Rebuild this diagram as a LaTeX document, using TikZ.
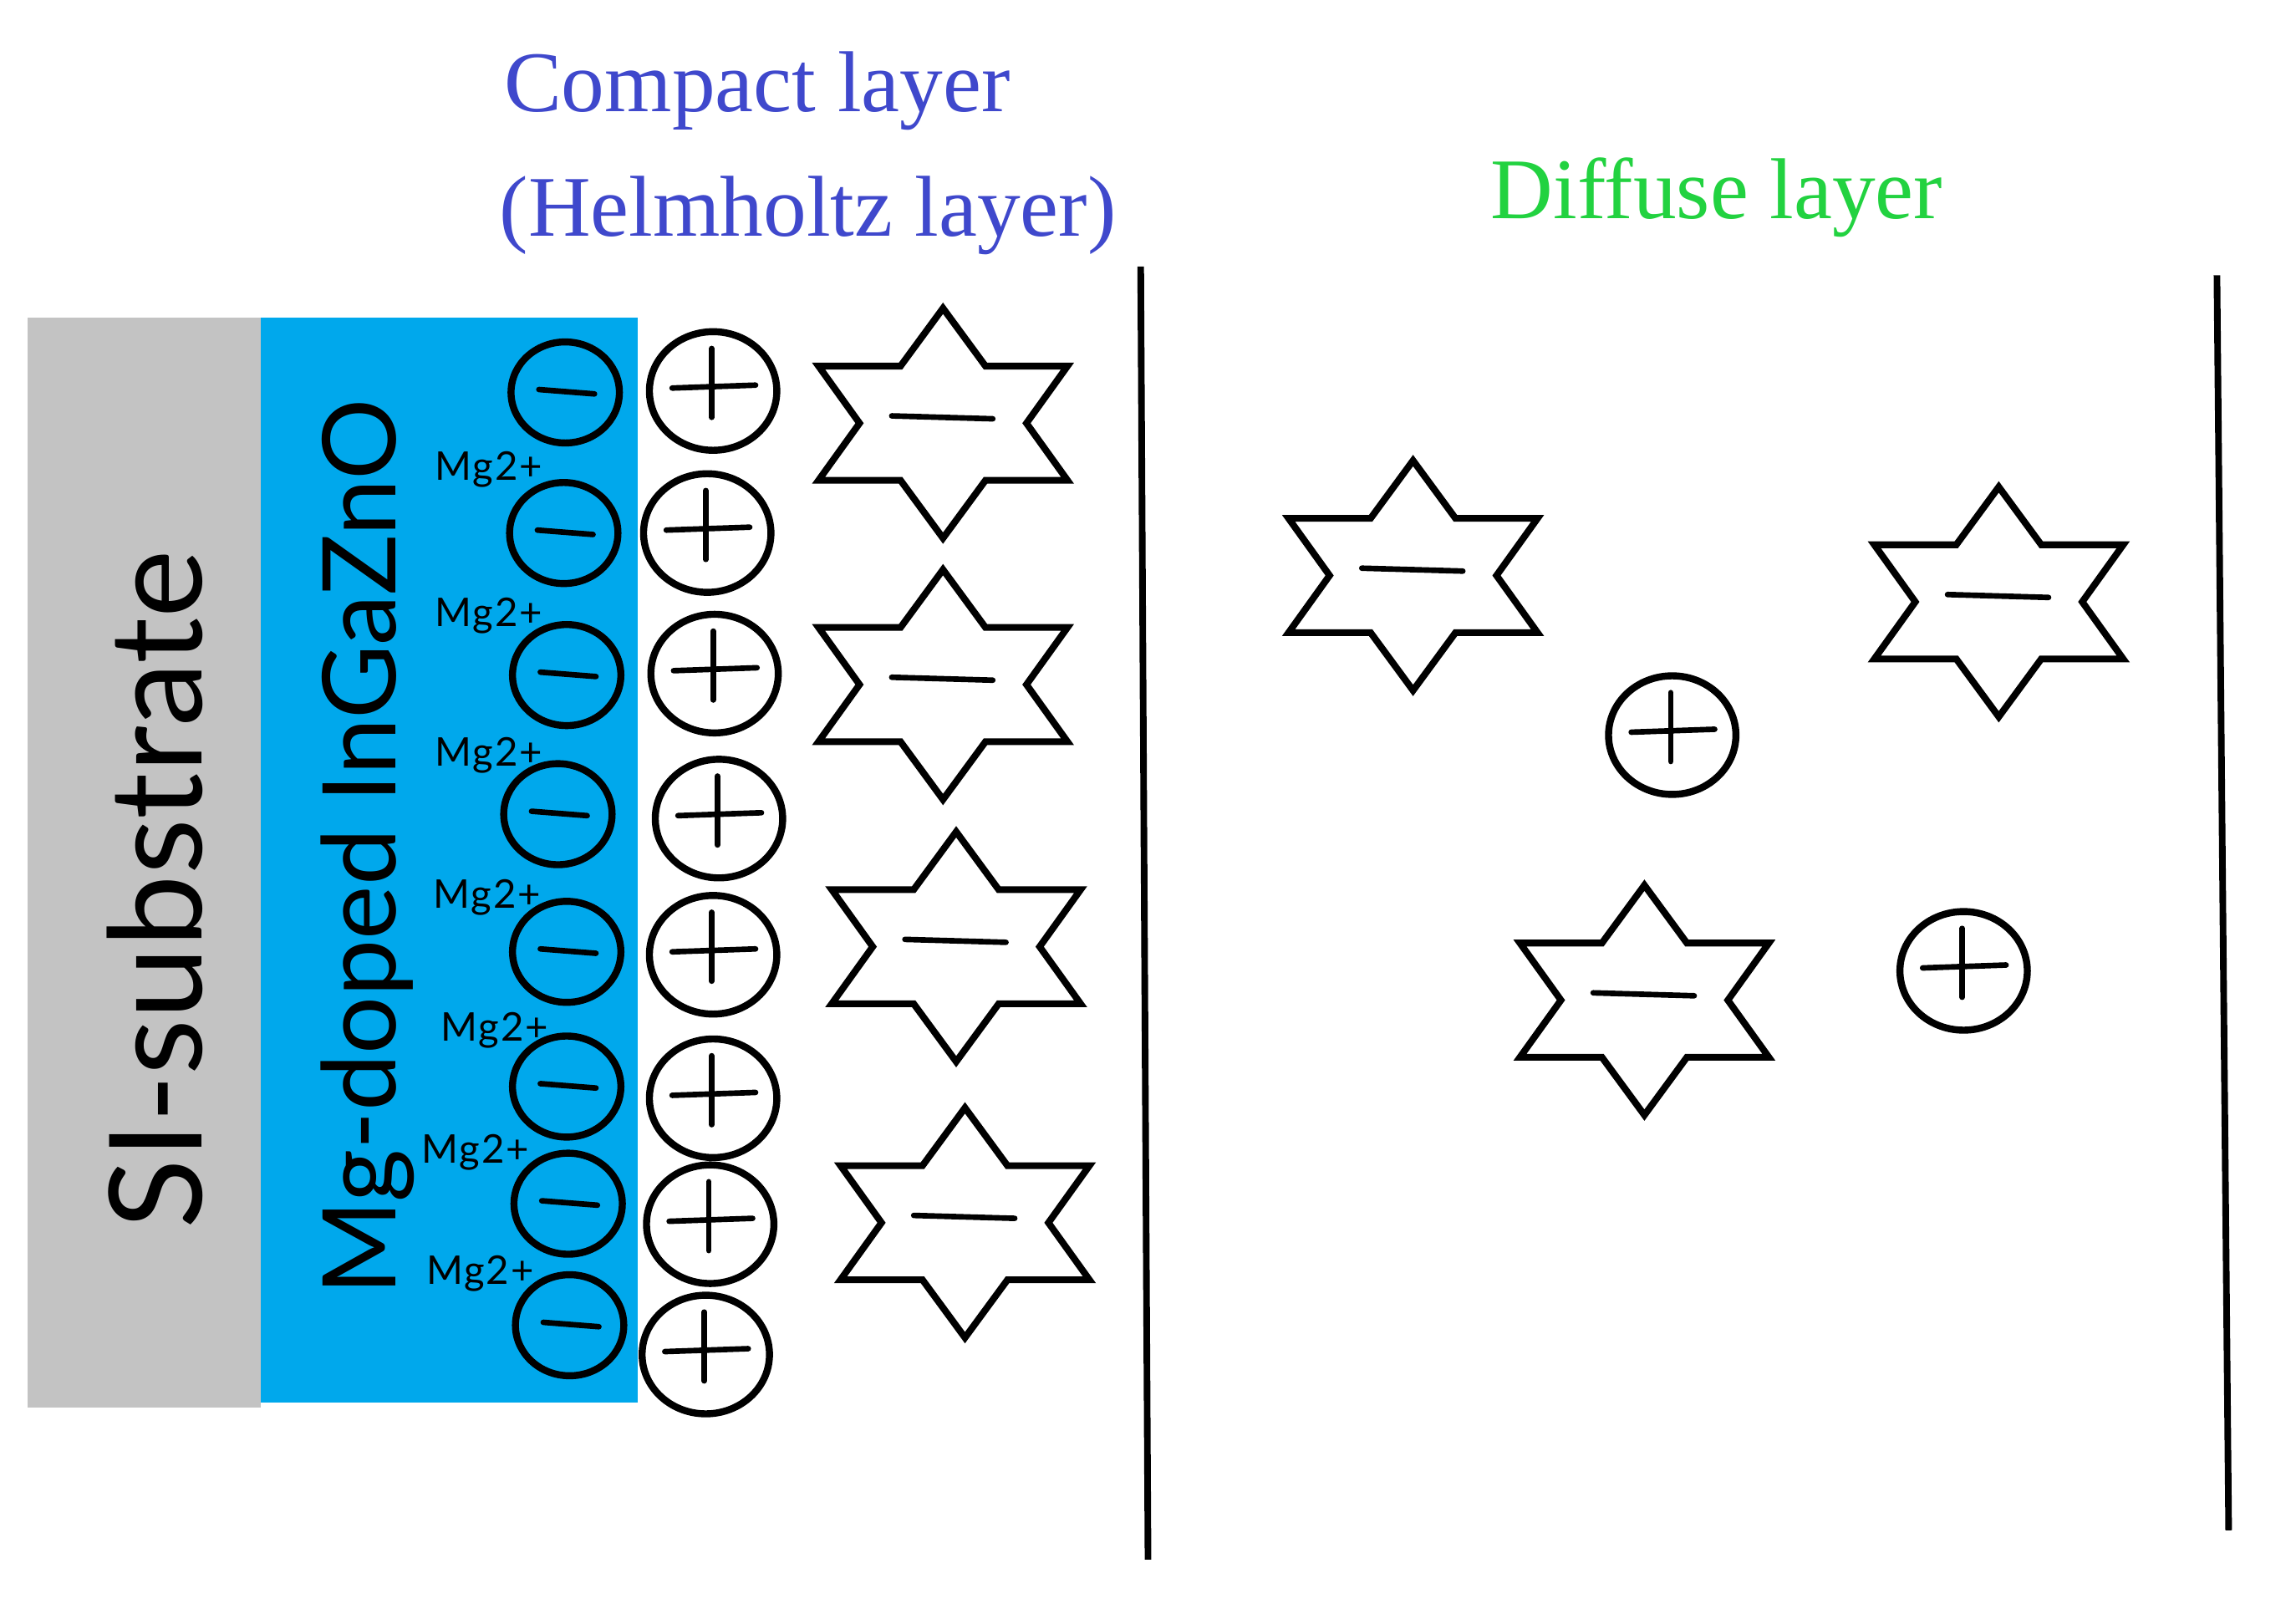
\documentclass[tikz,border=0pt]{standalone}
\usepackage{fontspec}
\setmainfont{Liberation Serif}
\newfontfamily\labfont{Lato}
\newfontfamily\mgfont[LetterSpace=4]{Lato}
\definecolor{subgray}{RGB}{195,195,195}
\definecolor{igzo}{RGB}{0,168,236}
\definecolor{compactblue}{RGB}{63,72,204}
\definecolor{diffgreen}{RGB}{34,210,64}
\begin{document}
\begin{tikzpicture}[x=1pt,y=-1pt,
  signline/.style={line width=3.8pt, line cap=round},
  anion/.pic={
    \draw[line width=4.6pt, line join=miter]
      (0,-78.5) -- (29,-39) -- (85,-39) -- (57,0) -- (85,39) -- (29,39) --
      (0,78.5) -- (-29,39) -- (-85,39) -- (-57,0) -- (-85,-39) -- (-29,-39) -- cycle;
    \draw[signline] (-35,-5) -- (34,-3);
  },
  cation/.pic={
    \draw[line width=4.8pt] (0,0) ellipse [x radius=43.5, y radius=40.5];
    \draw[signline] (-28,-2) -- (29,-4);
    \draw[signline] (-1,-29) -- (-1,18);
  },
  electron/.pic={
    \draw[line width=4.8pt] (0,0) ellipse [x radius=37, y radius=34.5];
    \draw[signline] (-18,-2) -- (20,1);
  },
  mglabel/.style={anchor=base west, inner sep=0pt, font=\mgfont\fontsize{27}{30}\selectfont},
  title/.style={anchor=base west, inner sep=0pt, font=\fontsize{59}{70}\selectfont},
  wall/.style={line width=4.5pt}
]
\path[use as bounding box] (0,0) rectangle (1568,1095);

% layers
\fill[subgray] (19,217) rectangle (178,961);
\fill[igzo] (178,217) rectangle (435.5,958);

\node[anchor=base, rotate=90, inner sep=0pt, font=\labfont\fontsize{88}{100}\selectfont] (si) at (138,607.5) {SI-substrate};
\node[anchor=base, rotate=90, inner sep=0pt, font=\labfont\fontsize{69.5}{80}\selectfont] (igzotext) at (270,578.5) {Mg-doped InGaZnO};

% titles
\node[title, text=compactblue] (compact) at (344,76) {Compact layer};
\node[title, text=compactblue] (helm) at (341,161) {(Helmholtz layer)};
\node[title, text=diffgreen] (diffuse) at (1018,149.5) {Diffuse layer};

% walls
\coordinate (w1top) at (779,182);
\coordinate (w1bot) at (784,1065);
\coordinate (w2top) at (1514,188);
\coordinate (w2bot) at (1522,1045);
\draw[wall] (w1top) -- (w1bot);
\draw[wall] (w2top) -- (w2bot);

% electrons (minus circles)
\pic at (386,268) {electron};
\pic at (385,364) {electron};
\pic at (387,461) {electron};
\pic at (381,556) {electron};
\pic at (387,650) {electron};
\pic at (387,742) {electron};
\pic at (388,822) {electron};
\pic at (389,905) {electron};

% Mg2+ labels
\node[mglabel] (mg1) at (297,328) {Mg2+};
\node[mglabel] (mg2) at (297,428) {Mg2+};
\node[mglabel] (mg3) at (297,523) {Mg2+};
\node[mglabel] (mg4) at (296,620) {Mg2+};
\node[mglabel] (mg5) at (301,711) {Mg2+};
\node[mglabel] (mg6) at (288,794) {Mg2+};
\node[mglabel] (mg7) at (291,877) {Mg2+};

% cations in compact layer
\pic at (487,267) {cation};
\pic at (483,364) {cation};
\pic at (488,460) {cation};
\pic at (491,559) {cation};
\pic at (487,652) {cation};
\pic at (487,750) {cation};
\pic at (485,836) {cation};
\pic at (482,925) {cation};

% anions in compact layer
\pic at (644,289) {anion};
\pic at (644,467.5) {anion};
\pic at (653,646.5) {anion};
\pic at (659,835) {anion};

% diffuse layer
\pic at (965,393) {anion};
\pic at (1365,411) {anion};
\pic at (1123,683) {anion};
\pic at (1142,502) {cation};
\pic at (1341,663) {cation};
\end{tikzpicture}
\end{document}
